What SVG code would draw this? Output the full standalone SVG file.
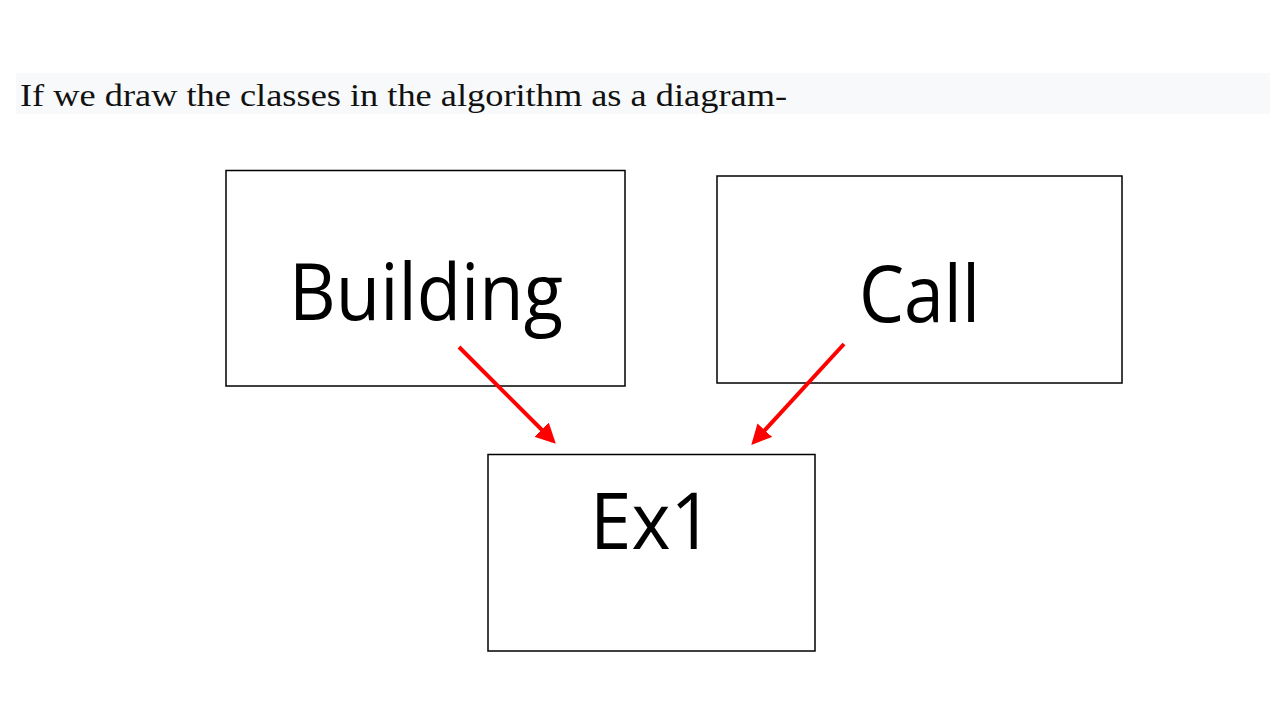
<svg xmlns="http://www.w3.org/2000/svg" width="1280" height="720" viewBox="0 0 1280 720">
<style>
.box{fill:#fff;stroke:#000;stroke-width:1.5}
.lbl{font-family:"Open Sans","Noto Sans",sans-serif;font-size:78px;fill:#000;text-anchor:middle}
.conn{stroke:#f00;stroke-width:4;fill:none}
</style>
<defs>
<marker id="ah" markerWidth="5" markerHeight="5" refX="4" refY="2.5" orient="auto" markerUnits="strokeWidth">
<path d="M0,0 L5,2.5 L0,5 z" fill="#f00"/>
</marker>
</defs>
<rect width="1280" height="720" fill="#fff"/>
<rect x="16" y="73" width="1254" height="41" fill="#f8f9fa"/>
<text x="20" y="106" font-family="Liberation Serif,serif" font-size="32" fill="#111" textLength="767" lengthAdjust="spacingAndGlyphs">If we draw the classes in the algorithm as a diagram-</text>
<g id="building">
<rect class="box" x="226" y="170.5" width="399" height="215.5"/>
<text class="lbl" x="426" y="320" textLength="274" lengthAdjust="spacingAndGlyphs">Building</text>
</g>
<g id="call">
<rect class="box" x="717" y="176" width="405" height="207"/>
<text class="lbl" x="919.5" y="322" textLength="121" lengthAdjust="spacingAndGlyphs">Call</text>
</g>
<g id="ex1">
<rect class="box" x="488" y="454.5" width="327" height="196.5"/>
<text class="lbl" x="651.5" y="549" textLength="123" lengthAdjust="spacingAndGlyphs">Ex1</text>
</g>
<g id="connectors">
<line class="conn" x1="459" y1="347" x2="553" y2="441" marker-end="url(#ah)"/>
<line class="conn" x1="844" y1="344" x2="754" y2="442" marker-end="url(#ah)"/>
</g>
</svg>
